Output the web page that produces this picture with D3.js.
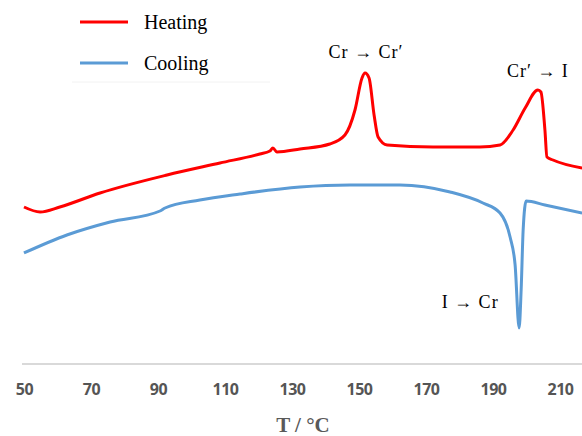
<!DOCTYPE html>
<html>
<head>
<meta charset="utf-8">
<script src="https://cdn.jsdelivr.net/npm/d3@7"></script>
<style>
body { margin: 0; background: #fff; }
</style>
</head>
<body>
<svg id="chart" width="582" height="436"></svg>
<script>
// DSC traces, heat flow in arbitrary units
var heatT = [50, 54.8, 60.7, 72.7, 92.7, 108.5, 120.4, 123.4, 124.3, 125.5, 132.4, 141.3, 145.8, 148.8, 150.9, 151.8, 153, 154.5, 155.7, 158.4, 172.1, 186.1, 192.1, 196, 199.6, 203.4, 204.3, 205.5, 206.1, 207.9, 216.6];
var heatQ = [15.8, 15.3, 15.8, 17.2, 19.0, 20.2, 21.1, 21.4, 21.7, 21.3, 21.6, 22.1, 23.0, 25.5, 28.7, 29.2, 28.7, 25.0, 22.8, 22.0, 21.8, 21.8, 22.0, 23.5, 25.7, 27.5, 27.3, 23.5, 20.8, 20.5, 19.7];
var coolT = [50, 62.8, 75.7, 90.6, 92.1, 102.5, 114.5, 132.4, 147.3, 162.2, 177.2, 187, 192.1, 195.1, 196.6, 197.8, 198.4, 199, 199.9, 205.5, 216.6];
var coolQ = [11.2, 13.0, 14.3, 15.4, 15.7, 16.5, 17.1, 17.8, 18.0, 18.0, 17.3, 16.2, 15.2, 12.8, 10.0, 3.7, 7.5, 13.5, 16.4, 16.0, 15.2];
var tickTemps = [50, 70, 90, 110, 130, 150, 170, 190, 210];
var seriesNames = ["Heating", "Cooling"];
var transitions = [
    { label: "Cr \u2192 Cr\u2032", t: 151.8, q: 29.2 },
    { label: "Cr\u2032 \u2192 I", t: 203.4, q: 27.5 },
    { label: "I \u2192 Cr", t: 197.8, q: 3.7 }
];

var svg = d3.select("#chart");
var x = d3.scaleLinear().domain([50, 210]).range([24, 560]);
var y = d3.scaleLinear().domain([0, 36.5]).range([365, 0]);
var color = d3.scaleOrdinal().domain(seriesNames).range(["#ff0000", "#5b9bd5"]);

svg.append("defs").append("clipPath").attr("id", "plot")
    .append("rect").attr("x", 22).attr("y", 0).attr("width", 560).attr("height", 365);

// baseline axis line
svg.append("line")
    .attr("x1", 22).attr("x2", 582)
    .attr("y1", 364).attr("y2", 364)
    .attr("stroke", "#d9d9d9").attr("stroke-width", 2);

var xAxis = svg.append("g")
    .attr("transform", "translate(0,381)")
    .call(d3.axisBottom(x).tickValues(tickTemps).tickSize(0).tickPadding(3));
xAxis.select(".domain").remove();
xAxis.selectAll("text")
    .style("font-family", "'Open Sans', sans-serif")
    .style("font-size", "16px")
    .style("font-weight", "bold")
    .style("letter-spacing", "-0.5px")
    .attr("fill", "#555");

svg.append("text")
    .attr("x", 303).attr("y", 432)
    .attr("text-anchor", "middle")
    .style("font-family", "'Liberation Serif', serif")
    .style("font-size", "21px")
    .style("font-weight", "bold")
    .attr("fill", "#595959")
    .text("T / \u00b0C");

var line = d3.line()
    .x(function(d) { return x(d[0]); })
    .y(function(d) { return y(d[1]); })
    .curve(d3.curveMonotoneX);

var series = [
    { name: "Cooling", pts: d3.zip(coolT, coolQ) },
    { name: "Heating", pts: d3.zip(heatT, heatQ) }
];

svg.append("g").attr("clip-path", "url(#plot)")
    .selectAll("path")
    .data(series)
    .enter().append("path")
    .attr("d", function(d) { return line(d.pts); })
    .attr("fill", "none")
    .attr("stroke", function(d) { return color(d.name); })
    .attr("stroke-width", 3)
    .attr("stroke-linejoin", "round");

// legend
var legend = svg.append("g").selectAll("g")
    .data(seriesNames)
    .enter().append("g")
    .attr("transform", function(d, i) { return "translate(80," + (22 + i * 41) + ")"; });
legend.append("line")
    .attr("x1", 0).attr("x2", 48)
    .attr("stroke", function(d) { return color(d); })
    .attr("stroke-width", 3);
legend.append("text")
    .attr("x", 64).attr("y", 7)
    .style("font-family", "'Liberation Serif', serif")
    .style("font-size", "20px")
    .attr("fill", "#000")
    .text(function(d) { return d; });
svg.append("line")
    .attr("x1", 72).attr("x2", 270).attr("y1", 82).attr("y2", 82)
    .attr("stroke", "#f2f2f2").attr("stroke-width", 1);

// transition labels
var offsets = [[1, -15], [0, -13], [-49, -20]];
svg.append("g").selectAll("text")
    .data(transitions)
    .enter().append("text")
    .attr("x", function(d, i) { return x(d.t) + offsets[i][0]; })
    .attr("y", function(d, i) { return y(d.q) + offsets[i][1]; })
    .attr("text-anchor", "middle")
    .style("font-family", "'Liberation Serif', serif")
    .style("font-size", "18px")
    .style("letter-spacing", "1px")
    .attr("fill", "#000")
    .text(function(d) { return d.label; });
</script>
</body>
</html>
